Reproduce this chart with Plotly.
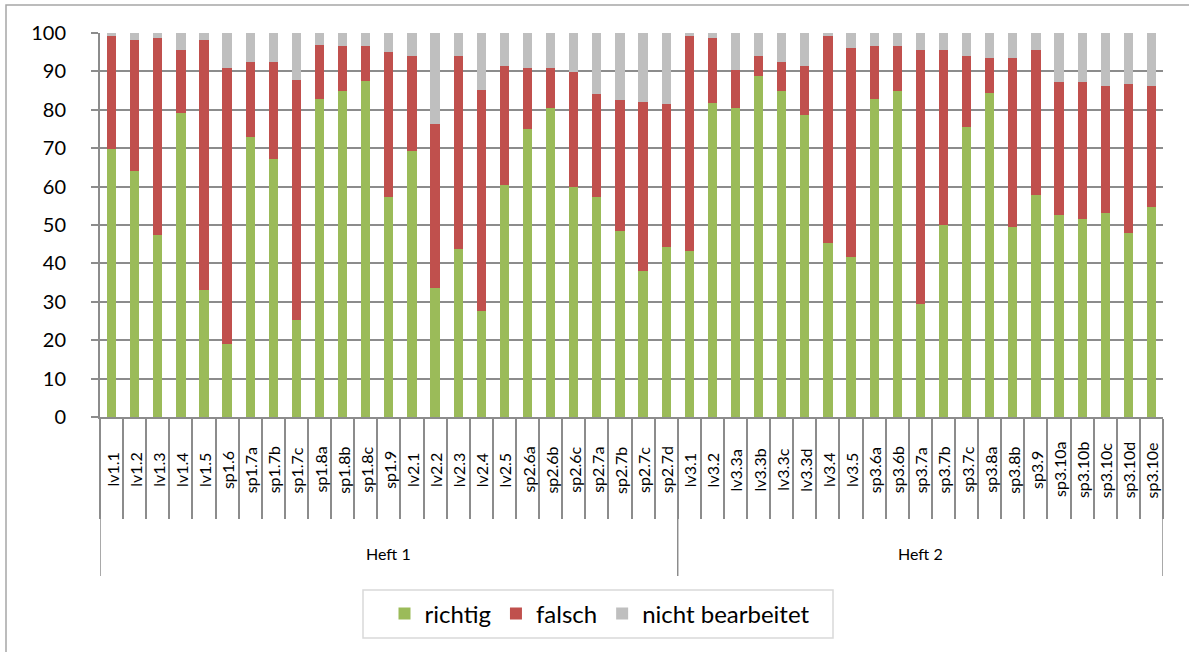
import plotly.graph_objects as go

categories = ["lv1.1", "lv1.2", "lv1.3", "lv1.4", "lv1.5", "sp1.6", "sp1.7a", "sp1.7b", "sp1.7c",
              "sp1.8a", "sp1.8b", "sp1.8c", "sp1.9", "lv2.1", "lv2.2", "lv2.3", "lv2.4", "lv2.5",
              "sp2.6a", "sp2.6b", "sp2.6c", "sp2.7a", "sp2.7b", "sp2.7c", "sp2.7d",
              "lv3.1", "lv3.2", "lv3.3a", "lv3.3b", "lv3.3c", "lv3.3d", "lv3.4", "lv3.5",
              "sp3.6a", "sp3.6b", "sp3.7a", "sp3.7b", "sp3.7c", "sp3.8a", "sp3.8b", "sp3.9",
              "sp3.10a", "sp3.10b", "sp3.10c", "sp3.10d", "sp3.10e"]

richtig = [69.7, 64.0, 47.4, 79.1, 33.0, 18.9, 72.8, 67.1, 25.2, 82.7, 84.8, 87.4, 57.2,
           69.2, 33.5, 43.8, 27.7, 60.3, 74.9, 80.6, 59.8, 57.2, 48.4, 38.1, 44.3,
           43.2, 81.7, 80.6, 88.9, 84.8, 78.6, 45.3, 41.7, 82.7, 84.8, 29.3, 50.0, 75.4,
           84.3, 49.5, 57.7, 52.5, 51.5, 53.0, 47.9, 54.6]
falsch = [29.5, 34.1, 51.3, 16.4, 65.1, 71.9, 19.6, 25.3, 62.5, 14.3, 11.7, 9.1, 37.8,
          24.7, 42.8, 50.1, 57.4, 31.0, 15.9, 10.2, 30.0, 26.9, 34.2, 43.9, 37.2,
          56.0, 16.9, 9.7, 5.0, 7.6, 12.7, 53.9, 54.3, 13.8, 11.7, 66.2, 45.5, 18.5,
          9.1, 43.9, 37.8, 34.7, 35.7, 33.1, 38.7, 31.5]
nicht_bearbeitet = [0.8, 1.9, 1.3, 4.5, 1.9, 9.2, 7.6, 7.6, 12.3, 3.0, 3.5, 3.5, 5.0,
                    6.1, 23.7, 6.1, 14.9, 8.7, 9.2, 9.2, 10.2, 15.9, 17.4, 18.0, 18.5,
                    0.8, 1.4, 9.7, 6.1, 7.6, 8.7, 0.8, 4.0, 3.5, 3.5, 4.5, 4.5, 6.1,
                    6.6, 6.6, 4.5, 12.8, 12.8, 13.9, 13.4, 13.9]

groups = ["Heft 1", "Heft 2"]
group_sizes = [25, 21]
yticks = list(range(0, 101, 10))

FONT = "Lato"
W, H = 1189, 652
# plot area in screen pixels: x 100..1163, y 33..417
ML, MT = 100, 33
MR = W - 1163
MB = H - 417
PH = H - MT - MB
PW = W - ML - MR

def py(sy):  # screen pixel y -> paper y
    return (417 - sy) / PH

def pxp(sx):  # screen pixel x -> paper x
    return (sx - 100) / PW

fig = go.Figure()
fig.add_trace(go.Bar(name="richtig", x=categories, y=richtig, marker_color="#9BBB59", marker_line_width=0))
fig.add_trace(go.Bar(name="falsch", x=categories, y=falsch, marker_color="#C0504D", marker_line_width=0))
fig.add_trace(go.Bar(name="nicht bearbeitet", x=categories, y=nicht_bearbeitet, marker_color="#BFBFBF", marker_line_width=0))

annotations = []
for c in categories:
    annotations.append(dict(x=c, xref="x", y=py(470), yref="paper", text=c, showarrow=False,
                            textangle=-90, xanchor="center", yanchor="middle",
                            font=dict(family=FONT, size=16, color="black")))

shapes = []
start = 0
bounds = [-0.5]
for g, n in zip(groups, group_sizes):
    annotations.append(dict(x=start + (n - 1) / 2, xref="x", y=py(553), yref="paper", text=g,
                            showarrow=False, xanchor="center", yanchor="middle",
                            font=dict(family=FONT, size=16, color="black")))
    start += n
    bounds.append(start - 0.5)
for b in bounds:
    shapes.append(dict(type="line", xref="x", yref="paper", x0=b, x1=b, y0=0, y1=py(576),
                       line=dict(color="#8C8C8C", width=1.5)))
# outer chart frame
shapes.append(dict(type="rect", xref="paper", yref="paper", x0=pxp(6), x1=pxp(1200),
                   y0=py(5), y1=py(670), line=dict(color="#A6A6A6", width=1.5)))
# legend frame
shapes.append(dict(type="rect", xref="paper", yref="paper", x0=pxp(363), x1=pxp(833),
                   y0=py(590), y1=py(638), line=dict(color="#D9D9D9", width=1.5)))

fig.update_layout(
    barmode="stack", bargap=0.6,
    width=W, height=H,
    margin=dict(l=ML, r=MR, t=MT, b=MB),
    plot_bgcolor="white", paper_bgcolor="white",
    font=dict(family=FONT, color="black"),
    annotations=annotations, shapes=shapes,
    legend=dict(orientation="h", x=pxp(600), xanchor="center", y=py(614), yanchor="middle",
                borderwidth=0, bgcolor="rgba(0,0,0,0)", font=dict(family=FONT, size=24),
                traceorder="normal", itemwidth=30),
)
fig.update_xaxes(type="category", showticklabels=False, ticks="outside", tickson="boundaries",
                 ticklen=100, tickcolor="#8C8C8C", tickwidth=1.5,
                 showline=True, linecolor="#8C8C8C", linewidth=2, showgrid=False,
                 range=[-0.5, len(categories) - 0.5])
fig.update_yaxes(range=[0, 100], tickvals=yticks, ticks="outside", ticklen=7, tickcolor="#8C8C8C",
                 tickwidth=2, showline=True, linecolor="#8C8C8C", linewidth=2,
                 showgrid=True, gridcolor="#8C8C8C", gridwidth=2, zeroline=False,
                 tickfont=dict(family=FONT, size=20, color="black"), ticklabelstandoff=21)

fig.write_html("out.html", config={"displayModeBar": False},
               post_script="document.body.style.margin='0';")
